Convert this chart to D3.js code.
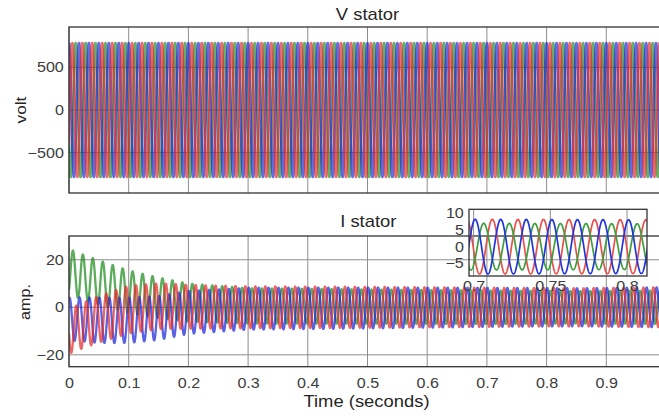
<!DOCTYPE html>
<html><head><meta charset="utf-8">
<script src="https://cdn.jsdelivr.net/npm/d3@7"></script>
<style>body{margin:0;background:#fff}svg{display:block}</style>
</head><body>
<svg id="c" width="659" height="416"></svg>
<script>
// ---------- data ----------
const xTickVals = [0, 0.1, 0.2, 0.3, 0.4, 0.5, 0.6, 0.7, 0.8, 0.9, 1];
const xTickLabels = ["0", "0.1", "0.2", "0.3", "0.4", "0.5", "0.6", "0.7", "0.8", "0.9", "1"];
const vTickVals = [-500, 0, 500];
const iTickVals = [-20, 0, 20];
const insetXTickVals = [0.7, 0.75, 0.8];
const insetYTickVals = [-5, 0, 5, 10];
const phases = ["red", "green", "blue"];
const phaseColors = ["#e22a2a", "#1f8a1f", "#1a26d8"];
const insetColors = ["#e8504c", "#3c9e3c", "#2235dc"];
const drawOrder = [1, 2, 0]; // green, blue, then red on top
const freqHz = 60;
// voltage: amplitude and time of first crest for each phase
const vAmp = [785, 785, 785];
const vPeakT = [0.0056, 0.0111, 0.0];
// current: envelope knots
const iKnotT = [0, 0.02, 0.05, 0.1, 0.15, 0.2, 0.3, 0.5, 0.7, 0.85, 1.0];
const iOffRed   = [-10, -8, -5, -1, 0.5, 0.2, 0, 0, 0, 0, 0];
const iOffGreen = [15, 13, 10.5, 6.5, 4, 2, 0.6, 0.3, 0, 0, 0];
const iOffBlue  = [-5, -5, -5.5, -5.5, -4.5, -2.2, -0.6, -0.3, 0, 0, 0];
const iAmpRed   = [9.5, 9.5, 9.8, 10, 9.6, 9.2, 8.8, 8.6, 8.2, 8.0, 8.4];
const iAmpGreen = [9.5, 9.5, 9.3, 9, 8.5, 8, 7.4, 7.2, 7.0, 6.8, 7.0];
const iAmpBlue  = [9, 9.2, 9.5, 9.5, 9.2, 9, 8.8, 8.6, 8.2, 8.0, 8.4];
const iPeakT = [0.0122, 0.0066, 0.001];

// ---------- layout ----------
const svg = d3.select("#c");
const FONT = "'Liberation Sans', Arial, sans-serif";
const SX = 1.15;
const x  = d3.scaleLinear().domain([0, 1]).range([69, 666]);
const yV = d3.scaleLinear().domain([-975, 975]).range([193, 27]);
const yI = d3.scaleLinear().domain([-25, 30]).range([366.7, 236]);
const xIn = d3.scaleLinear().domain([0.697, 0.813]).range([469, 647]);
const yIn = d3.scaleLinear().domain([-8.8, 11.2]).range([276, 209.3]);

const defs = svg.append("defs");
function clip(id, xs, ys) {
  defs.append("clipPath").attr("id", id).append("rect")
    .attr("x", xs.range()[0]).attr("y", ys.range()[1])
    .attr("width", xs.range()[1] - xs.range()[0])
    .attr("height", ys.range()[0] - ys.range()[1]);
}
clip("cV", x, yV); clip("cI", x, yI); clip("cIn", xIn, yIn);

const ts = d3.range(0, 1.00001, 0.0001);
const w = 2 * Math.PI * freqHz;

function grid(g, xs, ys, xt, yt) {
  const [x0, x1] = xs.range(), [y0, y1] = ys.range();
  g.selectAll(null).data(xt).join("line")
    .attr("x1", d => xs(d)).attr("x2", d => xs(d)).attr("y1", y1).attr("y2", y0)
    .attr("stroke", "#8e8e8e").attr("stroke-width", 1);
  g.selectAll(null).data(yt).join("line")
    .attr("y1", d => ys(d)).attr("y2", d => ys(d)).attr("x1", x0).attr("x2", x1)
    .attr("stroke", "#8e8e8e").attr("stroke-width", 1);
}
function box(g, xs, ys) {
  const [x0, x1] = xs.range(), [y0, y1] = ys.range();
  g.append("rect").attr("x", x0).attr("y", y1).attr("width", x1 - x0).attr("height", y0 - y1)
    .attr("fill", "none").attr("stroke", "#333").attr("stroke-width", 1.3);
}
function yAxis(g, ys, vals, xpos, size) {
  const ax = g.append("g").attr("transform", `translate(${xpos},0)`)
    .call(d3.axisLeft(ys).tickValues(vals).tickSize(0).tickPadding(4.5));
  ax.select(".domain").remove();
  ax.selectAll("text").attr("font-family", FONT).attr("font-size", size)
    .attr("fill", "#3c3c3c").attr("transform", `scale(${SX},1)`);
}

// ---------- V stator ----------
const gV = svg.append("g");
grid(gV, x, yV, xTickVals, vTickVals);
yAxis(gV, yV, vTickVals, 69, 14);
const gVl = gV.append("g").attr("clip-path", "url(#cV)");
drawOrder.forEach(k => {
  const line = d3.line().x(t => x(t)).y(t => yV(vAmp[k] * Math.cos(w * (t - vPeakT[k]))));
  gVl.append("path").attr("d", line(ts)).attr("fill", "none")
    .attr("stroke", phaseColors[k]).attr("stroke-width", 2.7).attr("stroke-opacity", 0.68);
});
box(gV, x, yV);

// ---------- I stator ----------
const offR = d3.scaleLinear().domain(iKnotT).range(iOffRed);
const offG = d3.scaleLinear().domain(iKnotT).range(iOffGreen);
const offB = d3.scaleLinear().domain(iKnotT).range(iOffBlue);
const ampR = d3.scaleLinear().domain(iKnotT).range(iAmpRed);
const ampG = d3.scaleLinear().domain(iKnotT).range(iAmpGreen);
const ampB = d3.scaleLinear().domain(iKnotT).range(iAmpBlue);
const offs = [offR, offG, offB], amps = [ampR, ampG, ampB];
const cur = (k, t) => offs[k](t) + amps[k](t) * Math.cos(w * (t - iPeakT[k]));

const gI = svg.append("g");
grid(gI, x, yI, xTickVals, iTickVals);
yAxis(gI, yI, iTickVals, 69, 14);
const xa = gI.append("g").attr("transform", `translate(0,${yI.range()[0]})`)
  .call(d3.axisBottom(x).tickValues(xTickVals.slice(0, 10)).tickSize(0).tickPadding(11)
    .tickFormat((d, i) => xTickLabels[i]));
xa.select(".domain").remove();
xa.selectAll("text").attr("font-family", FONT).attr("font-size", 14)
  .attr("fill", "#3c3c3c").attr("transform", `scale(${SX},1)`);

// inset tick labels (drawn under the main traces)
const gInL = svg.append("g");
const ixa = gInL.append("g").attr("transform", `translate(0,${yIn.range()[0]})`)
  .call(d3.axisBottom(xIn).tickValues(insetXTickVals).tickSize(0).tickPadding(5)
    .tickFormat(d3.format("")));
ixa.select(".domain").remove();
ixa.selectAll("text").attr("font-family", FONT).attr("font-size", 14)
  .attr("fill", "#3c3c3c").attr("transform", `scale(${SX},1)`);
yAxis(gInL, yIn, insetYTickVals, 469, 14);

const gIl = gI.append("g").attr("clip-path", "url(#cI)");
drawOrder.forEach(k => {
  const line = d3.line().x(t => x(t)).y(t => yI(cur(k, t)));
  gIl.append("path").attr("d", line(ts)).attr("fill", "none")
    .attr("stroke", phaseColors[k]).attr("stroke-width", 2.3).attr("stroke-opacity", 0.72);
});
box(gI, x, yI);

// ---------- inset ----------
const gIn = svg.append("g");
grid(gIn, xIn, yIn, insetXTickVals, []);
const tsIn = ts.filter(t => t >= 0.69 && t <= 0.82);
const gInl = gIn.append("g").attr("clip-path", "url(#cIn)");
phases.forEach((p, k) => {
  const line = d3.line().x(t => xIn(t)).y(t => yIn(cur(k, t)));
  gInl.append("path").attr("d", line(tsIn)).attr("fill", "none")
    .attr("stroke", insetColors[k]).attr("stroke-width", 1.7);
});
box(gIn, xIn, yIn);

// ---------- titles and labels ----------
function label(xp, yp, s, size, rot) {
  svg.append("text").attr("transform", `translate(${xp},${yp})` + (rot ? " rotate(-90)" : "") + ` scale(${SX},1)`)
    .attr("text-anchor", "middle").attr("font-family", FONT).attr("font-size", size)
    .attr("fill", "#262626").text(s);
}
label(367.5, 19.5, "V stator", 16);
label(368.3, 227.3, "I stator", 16);
label(366.5, 407, "Time (seconds)", 16);
label(26, 110, "volt", 15, true);
label(30, 302, "amp.", 14, true);
</script>
</body></html>
